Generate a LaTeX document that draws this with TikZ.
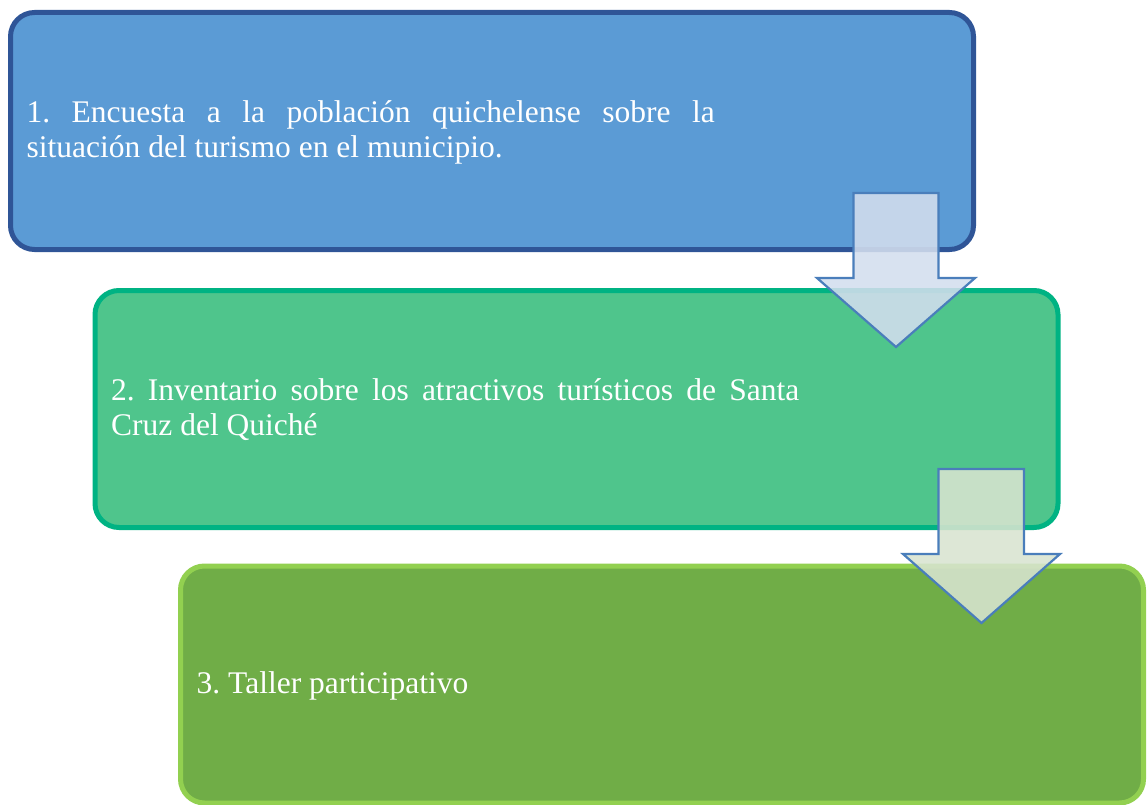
\documentclass[tikz,border=0pt]{standalone}
\usepackage{fontspec}
\setmainfont{Liberation Serif}
\frenchspacing
\definecolor{fillA}{HTML}{5B9BD5}
\definecolor{lineA}{HTML}{2F5597}
\definecolor{fillB}{HTML}{4FC58C}
\definecolor{lineB}{HTML}{00B383}
\definecolor{fillC}{HTML}{70AD47}
\definecolor{lineC}{HTML}{92D050}
\definecolor{arrline}{HTML}{4A7EBB}
\definecolor{arrfillA}{HTML}{D3DEEE}
\definecolor{arrfillB}{HTML}{D8E4D0}
\begin{document}
\begin{tikzpicture}[x=1pt,y=1pt,
  stepbox/.style={rounded corners=24pt, line width=5pt, minimum width=963pt,
    minimum height=237pt, inner sep=0pt},
  steptext/.style={anchor=west, inner sep=0pt, text width=688pt, align=justify,
    text=white, font=\fontsize{31.5}{35}\selectfont\frenchspacing},
  blockarrow/.style={draw=arrline, line width=2.2pt, line join=miter, fill opacity=0.88}
]
\useasboundingbox (0,0) rectangle (1148,-805);
\node[stepbox, draw=lineA, fill=fillA] (b1) at (492,-131) {};
\node[steptext] (t1) at ([xshift=18.5pt,yshift=-1pt]b1.west)
  {1. Encuesta a la población quichelense sobre la\linebreak situación del turismo en el municipio.};
\node[stepbox, draw=lineB, fill=fillB] (b2) at (576.5,-409) {};
\node[steptext] (t2) at ([xshift=18.5pt,yshift=-1pt]b2.west)
  {2. Inventario sobre los atractivos turísticos de Santa\linebreak Cruz del Quiché};
\draw[blockarrow, fill=arrfillA] (853.5,-193) -- (938.5,-193) -- (938.5,-278) -- (975,-278)
  -- (896,-347) -- (817,-278) -- (853.5,-278) -- cycle;
\node[stepbox, draw=lineC, fill=fillC] (b3) at (662,-684.5) {};
\node[steptext] (t3) at ([xshift=18.5pt,yshift=-1pt]b3.west) {3. Taller participativo};
\draw[blockarrow, fill=arrfillB] (938.5,-469) -- (1024,-469) -- (1024,-554) -- (1060,-554)
  -- (981.5,-623) -- (903,-554) -- (938.5,-554) -- cycle;
\end{tikzpicture}
\end{document}
